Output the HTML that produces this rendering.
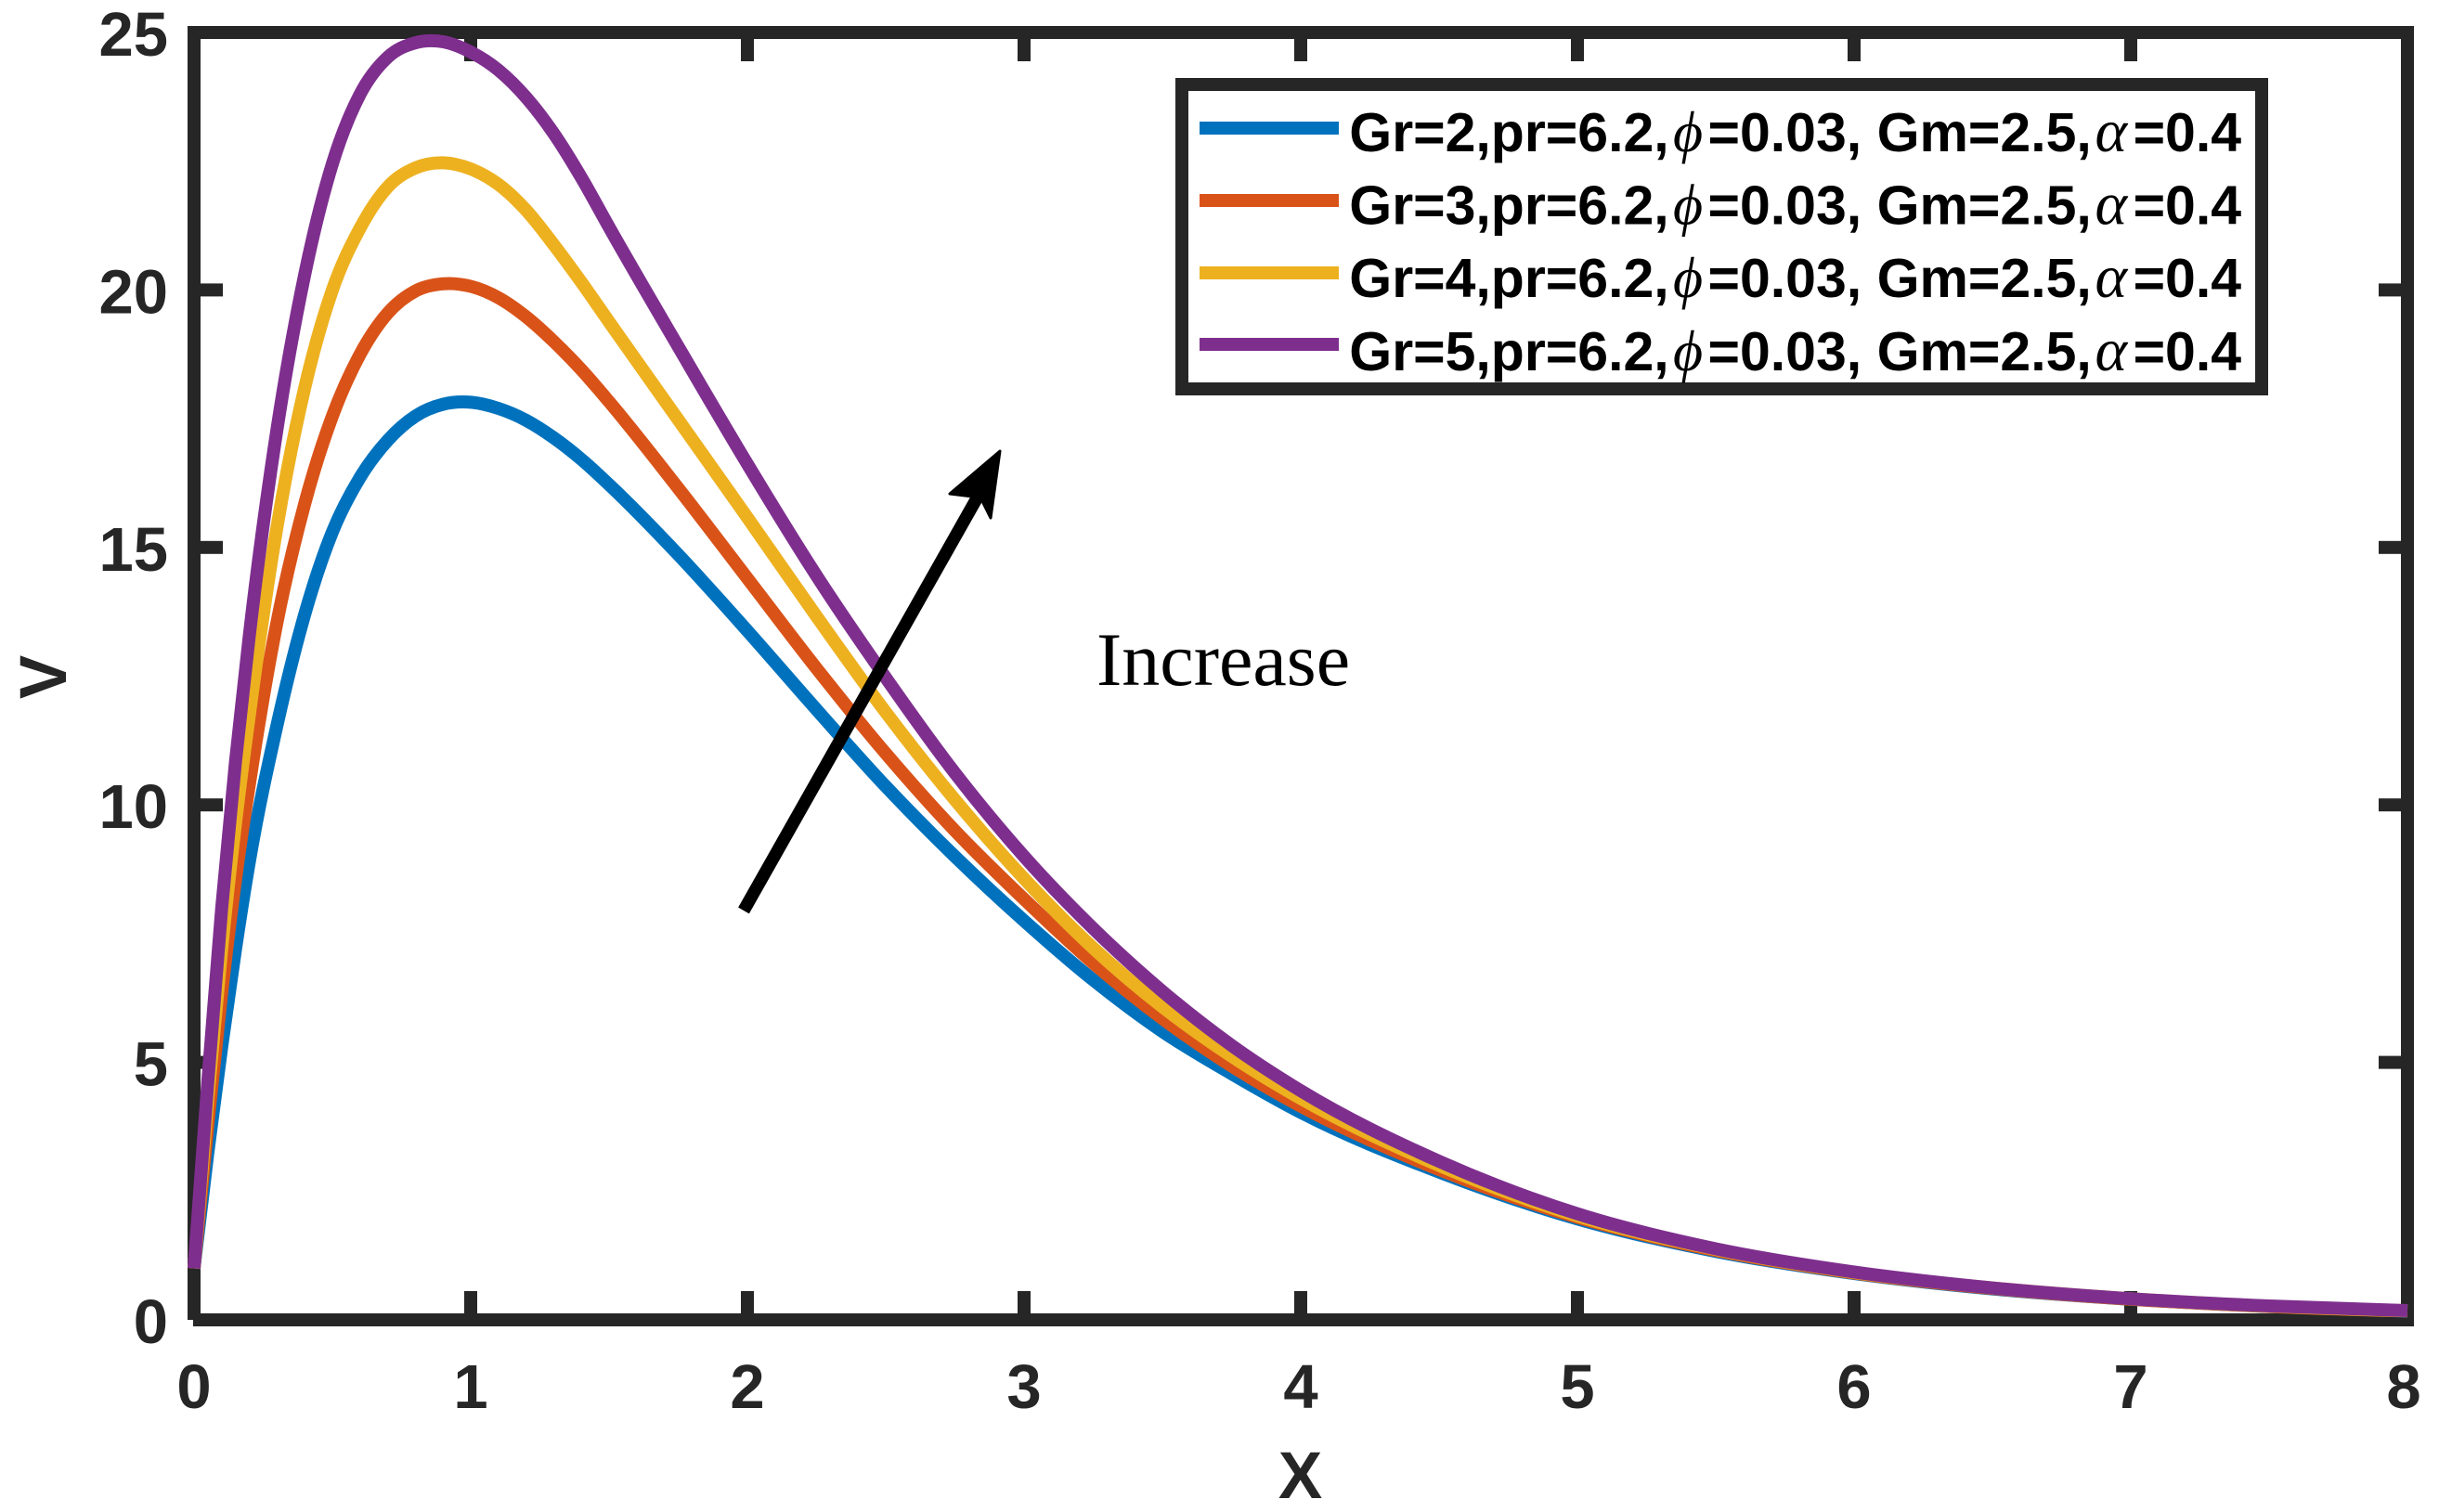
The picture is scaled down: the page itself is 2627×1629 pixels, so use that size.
<!DOCTYPE html>
<html lang="en">
<head>
<meta charset="utf-8">
<title>V versus X velocity profiles for increasing Gr</title>
<style>
html,body{margin:0;padding:0;background:#fff;}
svg{display:block;}
.tick-text{font-family:"Liberation Sans",sans-serif;font-weight:700;font-size:67px;fill:#262626;}
.axis-title{font-family:"Liberation Sans",sans-serif;font-weight:700;font-size:71px;fill:#262626;}
.legend-text{font-family:"Liberation Sans",sans-serif;font-weight:700;font-size:59px;fill:#000;}
.legend-phi{font-family:"Liberation Serif","DejaVu Serif",serif;font-style:italic;font-weight:400;font-size:62px;fill:#000;}
.legend-alpha{font-family:"Liberation Serif","DejaVu Serif",serif;font-style:italic;font-weight:400;font-size:66px;fill:#000;}
.note{font-family:"Liberation Serif",serif;font-size:82px;fill:#000;}
</style>
</head>
<body>
<svg id="chart" xmlns="http://www.w3.org/2000/svg" width="2627" height="1629" viewBox="0 0 2627 1629">
  <rect x="0" y="0" width="2627" height="1629" fill="#ffffff"/>
  <g id="axes-frame" fill="#262626">
    <rect x="202" y="28" width="14" height="1394"/>
    <rect x="202" y="28" width="2398" height="14"/>
    <rect x="2586" y="28" width="14" height="1401"/>
    <rect x="208" y="1415" width="2392" height="14"/>
  </g>
  <g id="tick-marks" fill="#262626"></g>
  <g id="tick-labels"></g>
  <g id="series" fill="none"></g>

  <text class="axis-title" x="1400.5" y="1614" text-anchor="middle">X</text>
  <text class="axis-title" transform="translate(71,729.5) rotate(-90)" text-anchor="middle">V</text>

  <g>
    <line x1="801" y1="981" x2="1056" y2="530" stroke="#000" stroke-width="13.5"/>
    <polygon points="1077,486 1023,532 1056,536 1067,558" fill="#000" stroke="#000" stroke-width="3" stroke-linejoin="round"/>
  </g>
  <text class="note" x="1181" y="738">Increase</text>

  <g>
    <rect x="1273" y="91" width="1163" height="328" fill="#fff" stroke="#262626" stroke-width="14"/>
    <g>
      <rect x="1292" y="131" width="150" height="14" fill="#0072BD"/>
      <text y="163"><tspan class="legend-text" x="1453.3">Gr=2,pr=6.2,</tspan><tspan class="legend-phi" x="1802">ϕ</tspan><tspan class="legend-text" x="1839.5">=0.03, Gm=2.5,</tspan><tspan class="legend-alpha" x="2256.5">α</tspan><tspan class="legend-text" x="2297.6">=0.4</tspan></text>
    </g>
    <g>
      <rect x="1292" y="209" width="150" height="14" fill="#D95319"/>
      <text y="241.7"><tspan class="legend-text" x="1453.3">Gr=3,pr=6.2,</tspan><tspan class="legend-phi" x="1802">ϕ</tspan><tspan class="legend-text" x="1839.5">=0.03, Gm=2.5,</tspan><tspan class="legend-alpha" x="2256.5">α</tspan><tspan class="legend-text" x="2297.6">=0.4</tspan></text>
    </g>
    <g>
      <rect x="1292" y="287" width="150" height="14" fill="#EDB120"/>
      <text y="320"><tspan class="legend-text" x="1453.3">Gr=4,pr=6.2,</tspan><tspan class="legend-phi" x="1802">ϕ</tspan><tspan class="legend-text" x="1839.5">=0.03, Gm=2.5,</tspan><tspan class="legend-alpha" x="2256.5">α</tspan><tspan class="legend-text" x="2297.6">=0.4</tspan></text>
    </g>
    <g>
      <rect x="1292" y="364" width="150" height="14" fill="#7E2F8E"/>
      <text y="399"><tspan class="legend-text" x="1453.3">Gr=5,pr=6.2,</tspan><tspan class="legend-phi" x="1802">ϕ</tspan><tspan class="legend-text" x="1839.5">=0.03, Gm=2.5,</tspan><tspan class="legend-alpha" x="2256.5">α</tspan><tspan class="legend-text" x="2297.6">=0.4</tspan></text>
    </g>
  </g>
</svg>
<script>
var xTickLabels = ["0","1","2","3","4","5","6","7","8"];
var yTickLabels = ["0","5","10","15","20","25"];
var xValues = [0,0.05,0.1,0.15,0.2,0.3,0.4,0.5,0.6,0.7,0.8,0.9,1,1.1,1.2,1.3,1.4,1.5,1.75,2,2.25,2.5,2.75,3,3.25,3.5,3.75,4,4.5,5,5.5,6,6.5,7,7.5,8];
var seriesGr2 = [1,3.25,5.3,7.2,8.9,11.55,13.7,15.3,16.36,17.08,17.55,17.78,17.82,17.7,17.47,17.13,16.71,16.22,14.86,13.38,11.85,10.36,9.0,7.75,6.6,5.6,4.78,4.03,2.87,1.96,1.33,0.9,0.6,0.4,0.26,0.17];
var seriesGr3 = [1,3.8,6.35,8.55,10.4,13.55,15.85,17.55,18.75,19.55,19.98,20.12,20.07,19.85,19.48,19.0,18.45,17.83,16.15,14.4,12.65,11.0,9.5,8.17,6.93,5.85,4.93,4.15,2.92,1.99,1.35,0.91,0.61,0.4,0.26,0.175];
var seriesGr4 = [1,4.3,7.2,9.65,11.75,15.4,18.1,20.0,21.2,22.0,22.37,22.47,22.35,22.05,21.55,20.88,20.15,19.38,17.48,15.58,13.66,11.8,10.1,8.57,7.22,6.08,5.12,4.3,3.0,2.02,1.37,0.92,0.62,0.41,0.265,0.178];
var seriesGr5 = [1,4.65,8.0,10.85,13.3,17.3,20.3,22.45,23.8,24.52,24.8,24.82,24.62,24.27,23.74,23.04,22.18,21.22,18.9,16.62,14.45,12.47,10.62,9.0,7.6,6.38,5.33,4.45,3.08,2.06,1.38,0.93,0.62,0.41,0.27,0.18];

var SVG_NS = "http://www.w3.org/2000/svg";
function xScale(v){ return 209 + v * 298; }
function yScale(v){ return 1422 - v * 55.48; }
function make(tag, parentId){
  var el = document.createElementNS(SVG_NS, tag);
  document.getElementById(parentId).appendChild(el);
  return el;
}
function setAll(el, props){
  for (var k in props) { el.setAttribute(k, props[k]); }
}
function curvePath(xs, ys){
  var n = xs.length, px = [], py = [], seg = [], m = [], i, d;
  for (i = 0; i < n; i++) { px.push(xScale(xs[i])); py.push(yScale(ys[i])); }
  for (i = 0; i < n - 1; i++) { seg.push((py[i + 1] - py[i]) / (px[i + 1] - px[i])); }
  for (i = 0; i < n; i++) {
    if (i === 0) {
      var h0 = px[1] - px[0], h1 = px[2] - px[1];
      m.push(seg[0] + (seg[0] - seg[1]) * h0 / (h0 + h1));
    } else if (i === n - 1) {
      var hA = px[n - 1] - px[n - 2], hB = px[n - 2] - px[n - 3];
      m.push(seg[n - 2] + (seg[n - 2] - seg[n - 3]) * hA / (hA + hB));
    } else {
      var hL = px[i] - px[i - 1], hR = px[i + 1] - px[i];
      m.push((hR * seg[i - 1] + hL * seg[i]) / (hL + hR));
    }
  }
  d = "M" + px[0].toFixed(2) + " " + py[0].toFixed(2);
  for (i = 0; i < n - 1; i++) {
    var h = (px[i + 1] - px[i]) / 3;
    d += "C" + (px[i] + h).toFixed(2) + " " + (py[i] + m[i] * h).toFixed(2) + " " +
         (px[i + 1] - h).toFixed(2) + " " + (py[i + 1] - m[i + 1] * h).toFixed(2) + " " +
         px[i + 1].toFixed(2) + " " + py[i + 1].toFixed(2);
  }
  return d;
}

xTickLabels.forEach(function(label){
  var v = Number(label), cx = xScale(v);
  if (v > 0 && v < 8) {
    var tb = make("rect", "tick-marks");
    setAll(tb, {x: cx - 7, y: 1391, width: 14, height: 24});
    
    
    var tt = make("rect", "tick-marks");
    setAll(tt, {x: cx - 7, y: 42, width: 14, height: 24});
    
    
  }
  var t = make("text", "tick-labels");
  setAll(t, {x: cx - (v === 8 ? 4 : 0), y: 1517, "text-anchor": "middle", "class": "tick-text"});
  t.textContent = label;
  
  
});

yTickLabels.forEach(function(label){
  var v = Number(label), cy = yScale(v);
  if (v > 0 && v < 25) {
    var tl = make("rect", "tick-marks");
    setAll(tl, {x: 216, y: cy - 7, width: 24, height: 14});
    
    
    var tr = make("rect", "tick-marks");
    setAll(tr, {x: 2562, y: cy - 7, width: 24, height: 14});
    
    
  }
  var t = make("text", "tick-labels");
  setAll(t, {x: 181, y: cy + 25, "text-anchor": "end", "class": "tick-text"});
  t.textContent = label;
  
  
});

var blueLine = make("path", "series");
setAll(blueLine, {d: curvePath(xValues, seriesGr2), stroke: "#0072BD", "stroke-width": 14, "stroke-linejoin": "round"});



var redLine = make("path", "series");
setAll(redLine, {d: curvePath(xValues, seriesGr3), stroke: "#D95319", "stroke-width": 14, "stroke-linejoin": "round"});



var yellowLine = make("path", "series");
setAll(yellowLine, {d: curvePath(xValues, seriesGr4), stroke: "#EDB120", "stroke-width": 14, "stroke-linejoin": "round"});



var purpleLine = make("path", "series");
setAll(purpleLine, {d: curvePath(xValues, seriesGr5), stroke: "#7E2F8E", "stroke-width": 14, "stroke-linejoin": "round"});


</script>
</body>
</html>
